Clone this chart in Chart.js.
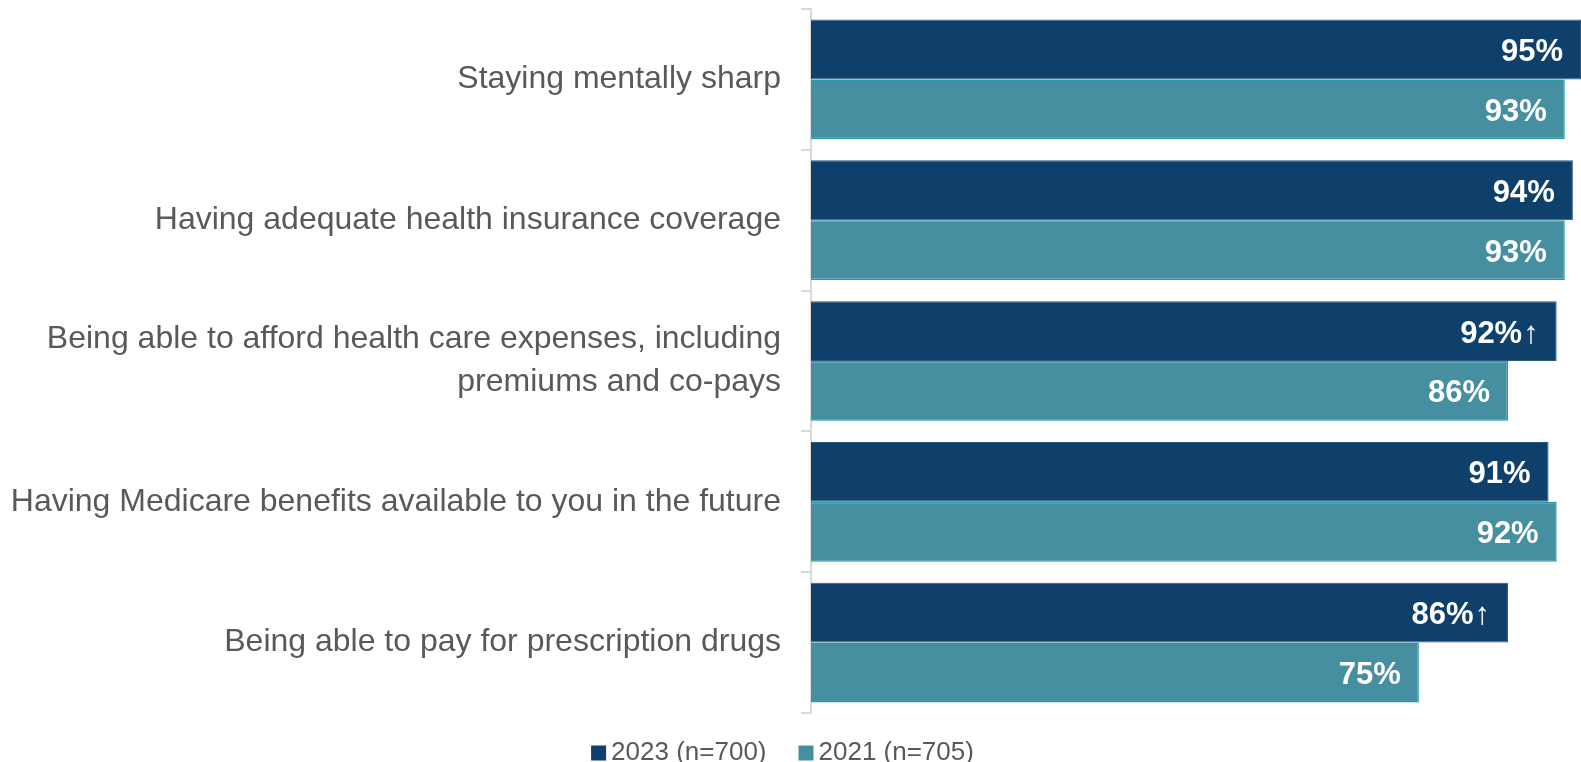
<!DOCTYPE html>
<html>
<head>
<meta charset="utf-8">
<script src="https://cdn.jsdelivr.net/npm/chart.js@4"></script>
<style>
    html, body { margin: 0; padding: 0; background: #fff; }
    #wrap { width: 1581px; height: 762px; }
</style>
</head>
<body>
<div id="wrap"><canvas id="myChart"></canvas></div>
<script>
// categories, top to bottom
var categories = [
    'Staying mentally sharp',
    'Having adequate health insurance coverage',
    ['Being able to afford health care expenses, including', 'premiums and co-pays'],
    'Having Medicare benefits available to you in the future',
    'Being able to pay for prescription drugs'
];
var values2023 = [95, 94, 92, 91, 86];
var values2021 = [93, 93, 86, 92, 75];
// significant increase vs 2021
var up2023 = [false, false, true, false, true];
var seriesNames = ['2023 (n=700)', '2021 (n=705)'];

const labelFont = '"Liberation Sans", Arial, sans-serif';

// white value labels inside the bar ends
const valueLabels = {
    id: 'valueLabels',
    afterDatasetsDraw(chart) {
        const ctx = chart.ctx;
        ctx.save();
        ctx.fillStyle = '#ffffff';
        ctx.textBaseline = 'middle';
        chart.data.datasets.forEach(function (ds, di) {
            const meta = chart.getDatasetMeta(di);
            meta.data.forEach(function (bar, i) {
                var txt = ds.data[i] + '%';
                var right = bar.x - 18;
                var y = bar.y + 3;
                ctx.textAlign = 'right';
                if (di == 0 && up2023[i]) {
                    ctx.font = 'normal 31px ' + labelFont;
                    var aw = ctx.measureText('\u2191').width;
                    ctx.fillText('\u2191', right, y);
                    right = right - aw - 1;
                }
                ctx.font = 'bold 31px ' + labelFont;
                ctx.fillText(txt, right, y);
            });
        });
        ctx.restore();
    }
};

// legend drawn by hand so the box/text gaps match
const bottomLegend = {
    id: 'bottomLegend',
    afterDraw(chart) {
        const ctx = chart.ctx;
        const box = 15, gap = 5, itemGap = 32;
        const y = 753;
        ctx.save();
        ctx.font = '26px ' + labelFont;
        ctx.textBaseline = 'middle';
        ctx.textAlign = 'left';
        var widths = chart.data.datasets.map(function (ds) { return ctx.measureText(ds.label).width; });
        var total = 0;
        widths.forEach(function (w, i) { total += box + gap + w + (i > 0 ? itemGap : 0); });
        var x = chart.width / 2 - 8 - total / 2;
        chart.data.datasets.forEach(function (ds, i) {
            ctx.fillStyle = ds.backgroundColor;
            ctx.fillRect(x, y - box / 2, box, box);
            ctx.fillStyle = '#595959';
            ctx.fillText(ds.label, x + box + gap, y);
            x += box + gap + widths[i] + itemGap;
        });
        ctx.restore();
    }
};

const config = {
    type: 'bar',
    data: {
        labels: categories,
        datasets: [{
            label: seriesNames[0],
            data: values2023,
            backgroundColor: '#0f406b',
            borderColor: '#2d5a82',
            borderWidth: 1,
            categoryPercentage: 0.85,
            barPercentage: 1.0
        }, {
            label: seriesNames[1],
            data: values2021,
            backgroundColor: '#458fa1',
            borderColor: '#1f9bac',
            borderWidth: 1.5,
            categoryPercentage: 0.85,
            barPercentage: 1.0
        }]
    },
    options: {
        indexAxis: 'y',
        responsive: true,
        maintainAspectRatio: false,
        animation: false,
        layout: {
            padding: { top: 9, right: 0, left: 0, bottom: 49 }
        },
        plugins: {
            legend: { display: false },
            tooltip: { enabled: false }
        },
        scales: {
            x: {
                display: false,
                min: 0,
                max: 95
            },
            y: {
                offset: true,
                afterFit: function (scale) {
                    scale.width = 811;
                    scale.paddingTop = 0;
                    scale.paddingBottom = 0;
                },
                grid: {
                    drawOnChartArea: false,
                    offset: true,
                    tickLength: 10,
                    color: '#d9d9d9',
                    lineWidth: 2
                },
                border: { color: '#d9d9d9', width: 2 },
                ticks: {
                    padding: 20,
                    color: '#595959',
                    font: { family: labelFont, size: 32, lineHeight: 1.35 }
                }
            }
        }
    },
    plugins: [valueLabels, bottomLegend]
};

(function () {
    const myChart = new Chart(document.getElementById('myChart'), config);
})();
</script>
</body>
</html>
